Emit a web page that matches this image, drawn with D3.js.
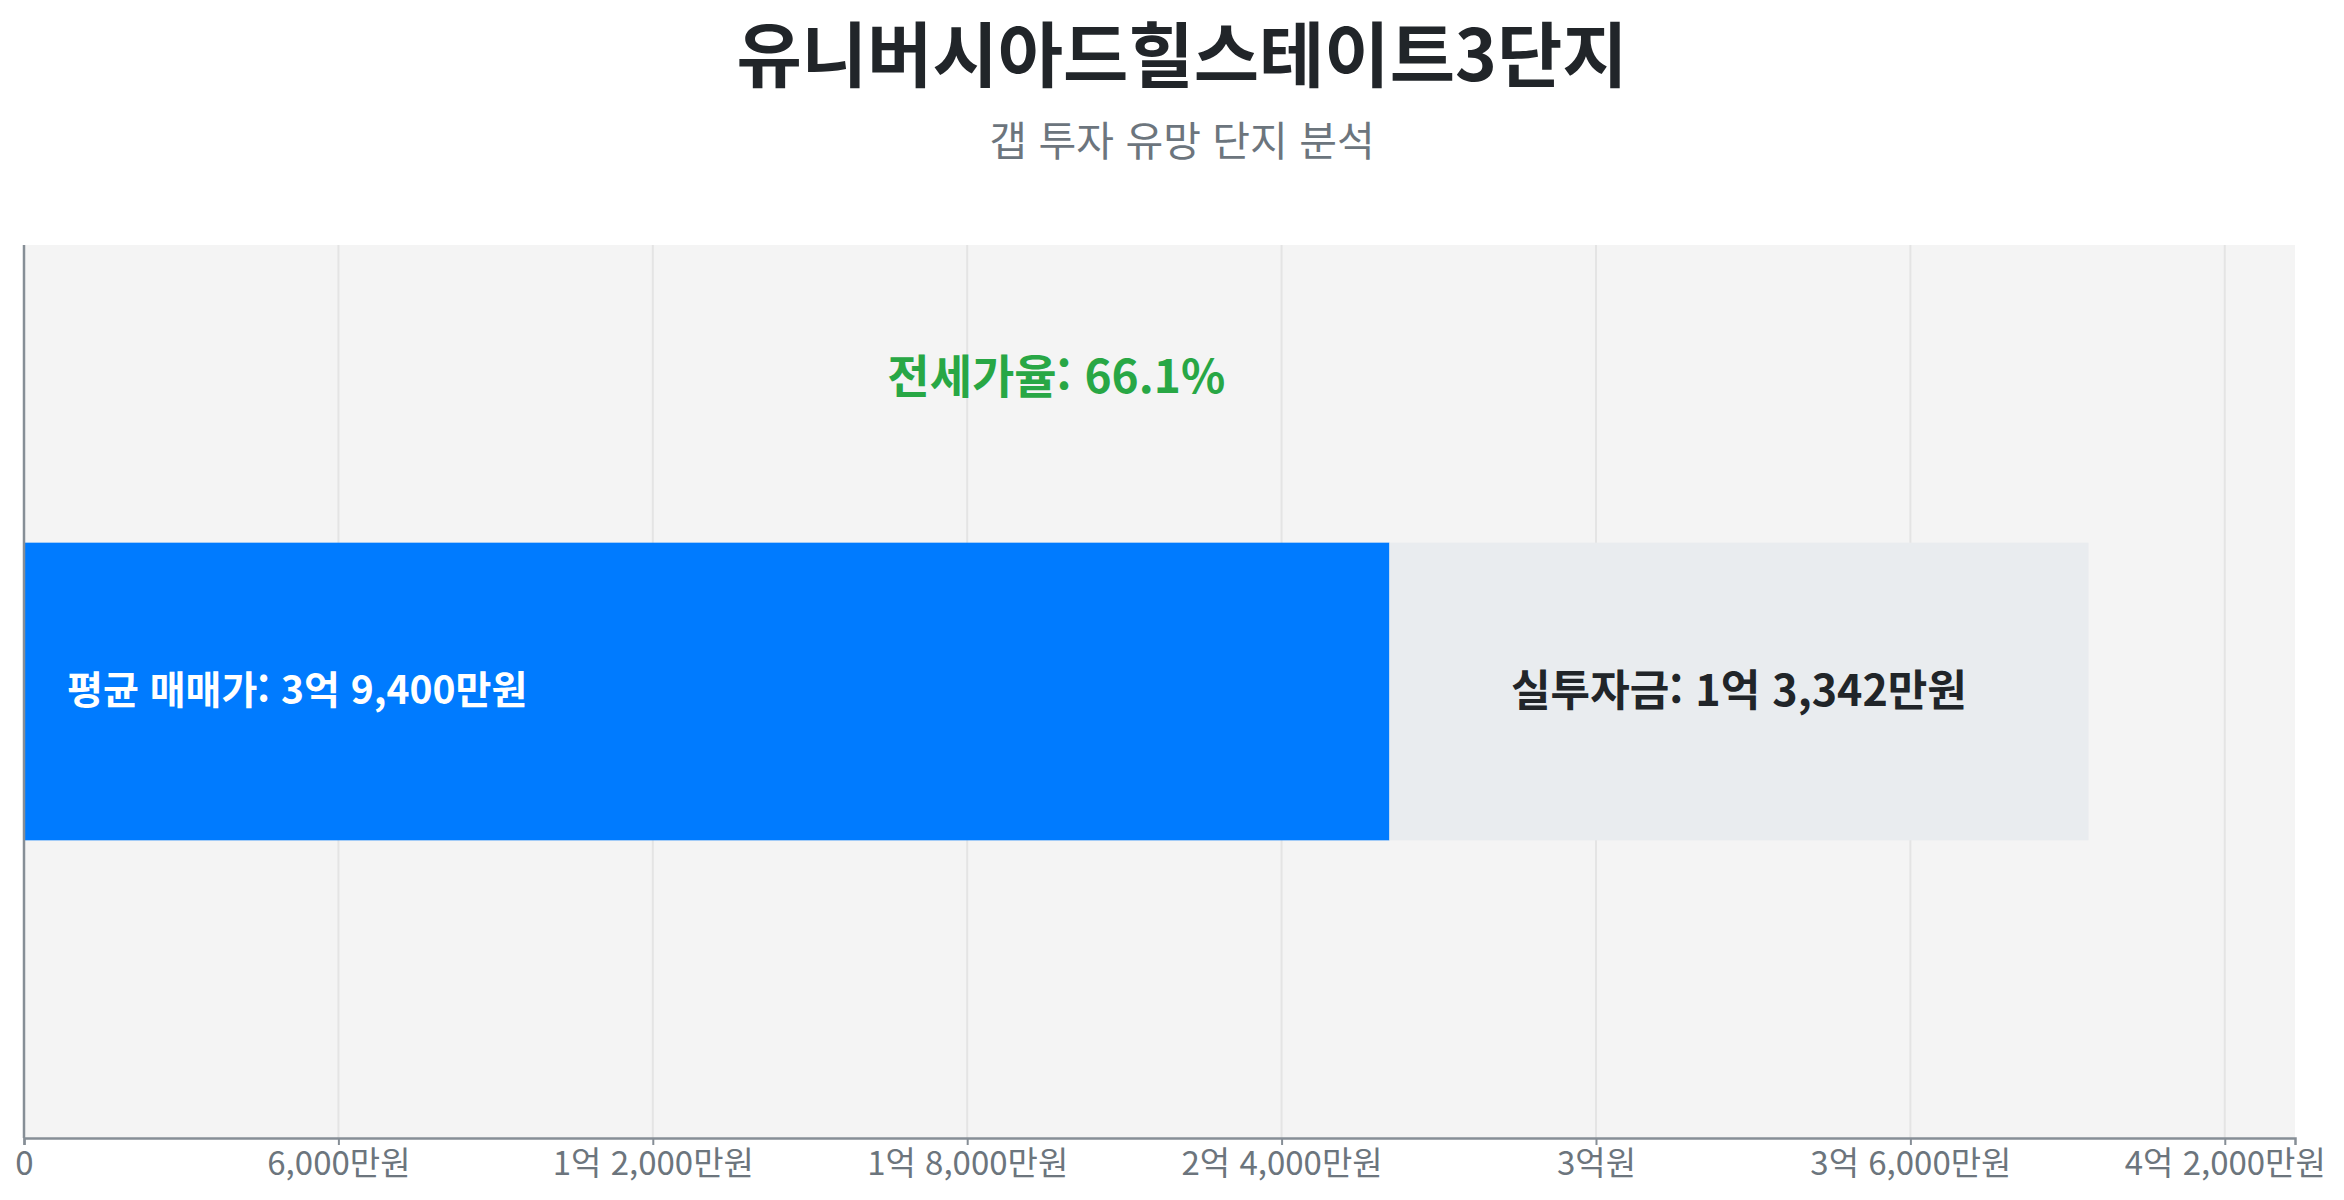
<!DOCTYPE html>
<html lang="ko">
<head>
<meta charset="utf-8">
<title>유니버시아드힐스테이트3단지</title>
<script src="https://cdn.jsdelivr.net/npm/d3@7"></script>
<style>
  html, body { margin: 0; padding: 0; background: #fff; }
  svg { display: block; font-family: "Noto Sans CJK KR", "Noto Sans", sans-serif; }
</style>
</head>
<body>
<svg id="chart" width="2344" height="1200"></svg>
<script>
// values in 만원
var complexName = "유니버시아드힐스테이트3단지";
var subtitle = "갭 투자 유망 단지 분석";
var categories = ["유니버시아드힐스테이트3단지"];
var salePrice = [39400];       // 평균 매매가
var cashNeeded = [13342];      // 실투자금
var jeonseRate = [66.1];       // 전세가율 (%)
var tickValues = [0, 6000, 12000, 18000, 24000, 30000, 36000, 42000];

var W = 2344, H = 1200;
var margin = {top: 245, right: 49, bottom: 62, left: 24};

var svg = d3.select("#chart");

function won(v) {
  if (v === 0) return "0";
  var eok = Math.floor(v / 10000),
      man = v % 10000;
  if (eok === 0) return d3.format(",")(man) + "만원";
  if (man === 0) return eok + "억원";
  return eok + "억 " + d3.format(",")(man) + "만원";
}

var x = d3.scaleLinear()
  .domain([0, d3.max(salePrice) * 1.1])
  .range([margin.left, W - margin.right]);

var y = d3.scaleBand()
  .domain(categories)
  .range([margin.top, H - margin.bottom])
  .padding(0.5);

// titles
svg.append("text")
  .attr("x", 1182).attr("y", 50)
  .attr("text-anchor", "middle")
  .attr("dominant-baseline", "central")
  .style("font-size", "71px")
  .style("font-weight", 700)
  .attr("fill", "#212529")
  .text(complexName);

svg.append("text")
  .attr("x", 1182).attr("y", 138)
  .attr("text-anchor", "middle")
  .attr("dominant-baseline", "central")
  .style("font-size", "41px")
  .attr("fill", "#6c757d")
  .text(subtitle);

// plot background
svg.append("rect")
  .attr("x", margin.left).attr("y", margin.top)
  .attr("width", W - margin.left - margin.right)
  .attr("height", H - margin.top - margin.bottom)
  .attr("fill", "#f4f4f4");

// grid
svg.append("g")
  .selectAll("line")
  .data(tickValues)
  .enter().append("line")
  .attr("x1", function(d) { return x(d); })
  .attr("x2", function(d) { return x(d); })
  .attr("y1", margin.top)
  .attr("y2", H - margin.bottom)
  .attr("stroke", "#e4e4e4")
  .attr("stroke-width", 2);

var rows = categories.map(function(c, i) {
  var jeonse = salePrice[i] - cashNeeded[i];
  return {cat: c, sale: salePrice[i], cash: cashNeeded[i], jeonse: jeonse, rate: jeonseRate[i]};
});

var bars = svg.append("g");

// jeonse part (blue) and actual investment (gray)
bars.selectAll("rect.jeonse")
  .data(rows)
  .enter().append("rect")
  .attr("class", "jeonse")
  .attr("x", x(0))
  .attr("y", function(d) { return y(d.cat); })
  .attr("width", function(d) { return x(d.jeonse) - x(0); })
  .attr("height", y.bandwidth())
  .attr("fill", "#007bff");

bars.selectAll("rect.cash")
  .data(rows)
  .enter().append("rect")
  .attr("class", "cash")
  .attr("x", function(d) { return x(d.jeonse); })
  .attr("y", function(d) { return y(d.cat); })
  .attr("width", function(d) { return x(d.sale) - x(d.jeonse); })
  .attr("height", y.bandwidth())
  .attr("fill", "#e9ecef");

// labels
bars.selectAll("text.sale")
  .data(rows)
  .enter().append("text")
  .attr("class", "sale")
  .attr("x", x(0) + 43)
  .attr("y", function(d) { return y(d.cat) + y.bandwidth() / 2 - 5; })
  .attr("dominant-baseline", "central")
  .style("font-size", "39px")
  .style("font-weight", 700)
  .attr("fill", "#fff")
  .text(function(d) { return "평균 매매가: " + won(d.sale); });

bars.selectAll("text.cash")
  .data(rows)
  .enter().append("text")
  .attr("class", "cash")
  .attr("x", function(d) { return x((d.jeonse + d.sale) / 2); })
  .attr("y", function(d) { return y(d.cat) + y.bandwidth() / 2 - 5; })
  .attr("text-anchor", "middle")
  .attr("dominant-baseline", "central")
  .style("font-size", "43px")
  .style("font-weight", 700)
  .attr("fill", "#212529")
  .text(function(d) { return "실투자금: " + won(d.cash); });

bars.selectAll("text.rate")
  .data(rows)
  .enter().append("text")
  .attr("class", "rate")
  .attr("x", function(d) { return x(d.sale / 2); })
  .attr("y", function(d) { return y(d.cat) - y.bandwidth() * 0.57; })
  .attr("text-anchor", "middle")
  .attr("dominant-baseline", "central")
  .style("font-size", "46px")
  .style("font-weight", 700)
  .attr("fill", "#28a745")
  .text(function(d) { return "전세가율: " + d.rate + "%"; });

// axes
var xAxis = svg.append("g")
  .attr("transform", "translate(0," + (H - margin.bottom) + ")")
  .call(d3.axisBottom(x).tickValues(tickValues).tickFormat(won).tickSizeOuter(0).tickSize(7).tickPadding(7));

xAxis.select(".domain").attr("stroke", "#868e96").attr("stroke-width", 2.5);
xAxis.selectAll(".tick line").attr("stroke", "#868e96").attr("stroke-width", 2);
xAxis.selectAll(".tick text")
  .attr("fill", "#6c757d")
  .style("font-size", "33px")
  .style("font-family", "'Noto Sans CJK KR', sans-serif");

svg.append("line")
  .attr("x1", margin.left).attr("x2", margin.left)
  .attr("y1", margin.top).attr("y2", H - margin.bottom)
  .attr("stroke", "#868e96")
  .attr("stroke-width", 2.5);
</script>
</body>
</html>
